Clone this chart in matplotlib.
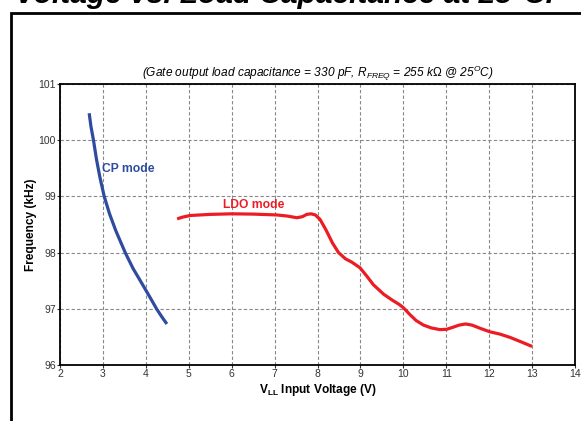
import matplotlib
matplotlib.use("Agg")
import matplotlib.pyplot as plt
from matplotlib.patches import Rectangle

plt.rcParams['font.family'] = ['Liberation Sans', 'DejaVu Sans']
plt.rcParams['mathtext.fontset'] = 'custom'
plt.rcParams['mathtext.rm'] = 'Liberation Sans'
plt.rcParams['mathtext.it'] = 'Liberation Sans:italic'
plt.rcParams['mathtext.bf'] = 'Liberation Sans:bold'

# CP mode curve
cp_v = [2.68, 2.72, 2.78, 2.85, 2.93, 3.03, 3.15, 3.3, 3.52, 3.7, 3.94, 4.1, 4.25, 4.37, 4.49]
cp_f = [100.48, 100.25, 100.0, 99.66, 99.34, 99.0, 98.7, 98.39, 98.0, 97.72, 97.41, 97.2,
        97.0, 96.86, 96.73]

# LDO mode curve
ldo_v = [4.73, 4.85, 5.03, 5.5, 6.0, 6.5, 7.05, 7.3, 7.52, 7.65, 7.75, 7.85, 7.95, 8.06,
         8.2, 8.35, 8.49, 8.65, 8.8, 8.99, 9.15, 9.3, 9.54, 9.75, 9.9, 10.0, 10.15, 10.3,
         10.47, 10.65, 10.85, 11.01, 11.15, 11.3, 11.45, 11.6, 11.8, 12.02, 12.25, 12.49,
         12.75, 13.0]
ldo_f = [98.60, 98.63, 98.66, 98.68, 98.69, 98.685, 98.67, 98.65, 98.62, 98.64, 98.68,
         98.69, 98.67, 98.59, 98.40, 98.17, 98.0, 97.89, 97.83, 97.73, 97.58, 97.43, 97.26,
         97.15, 97.08, 97.02, 96.9, 96.79, 96.71, 96.66, 96.63, 96.635, 96.67, 96.71, 96.73,
         96.71, 96.65, 96.59, 96.55, 96.49, 96.41, 96.33]

xticks = list(range(2, 15))
yticks = [96, 97, 98, 99, 100, 101]

fig = plt.figure(figsize=(5.81, 4.21), dpi=100)

# frame around the figure panel (runs off the right and bottom of the crop)
fig.patches.append(Rectangle((11 / 581, -0.2), 1.2, 1.2 - 12.5 / 421,
                             transform=fig.transFigure, fill=False,
                             edgecolor='black', linewidth=2))

fig.text(15 / 581, 1 - 3 / 421, 'Voltage vs. Load Capacitance at 25\u00b0C.',
         fontsize=21.5, fontweight='bold', fontstyle='italic', va='baseline', ha='left')

ax = fig.add_axes([60 / 581, 56 / 421, 515 / 581, 281 / 421])
ax.plot(cp_v, cp_f, color='#2f4b9f', linewidth=2.3, solid_capstyle='butt')
ax.plot(ldo_v, ldo_f, color='#ec1c24', linewidth=2.3, solid_capstyle='butt')

ax.text(2.98, 99.49, 'CP mode', color='#2f4b9f', fontsize=8.7, fontweight='bold',
        va='center', ha='left')
ax.text(5.79, 98.85, 'LDO mode', color='#ec1c24', fontsize=8.7, fontweight='bold',
        va='center', ha='left')

ax.set_xlim(2, 14)
ax.set_ylim(96, 101)
ax.set_xticks(xticks)
ax.set_yticks(yticks)
ax.tick_params(labelsize=7.5, length=2, width=0.8, pad=1, colors='#333333')
ax.grid(True, color='#888888', linestyle=(0, (3, 2)), linewidth=0.8)
for s in ax.spines.values():
    s.set_color('black')
    s.set_linewidth(1.3)

ax.set_xlabel(r'$\mathbf{V}_{\mathbf{LL}}$ Input Voltage (V)', fontsize=8.6,
              fontweight='bold', labelpad=2)
ax.set_ylabel('Frequency (kHz)', fontsize=8.6, fontweight='bold', labelpad=1)
ax.set_title(r'(Gate output load capacitance = 330 pF, $\mathit{R}_{\mathit{FREQ}}$ = 255 k$\Omega$ @ 25$^{\mathit{O}}$C)',
             fontsize=8.6, fontstyle='italic', pad=5)

fig.savefig('out.png', dpi=100)
